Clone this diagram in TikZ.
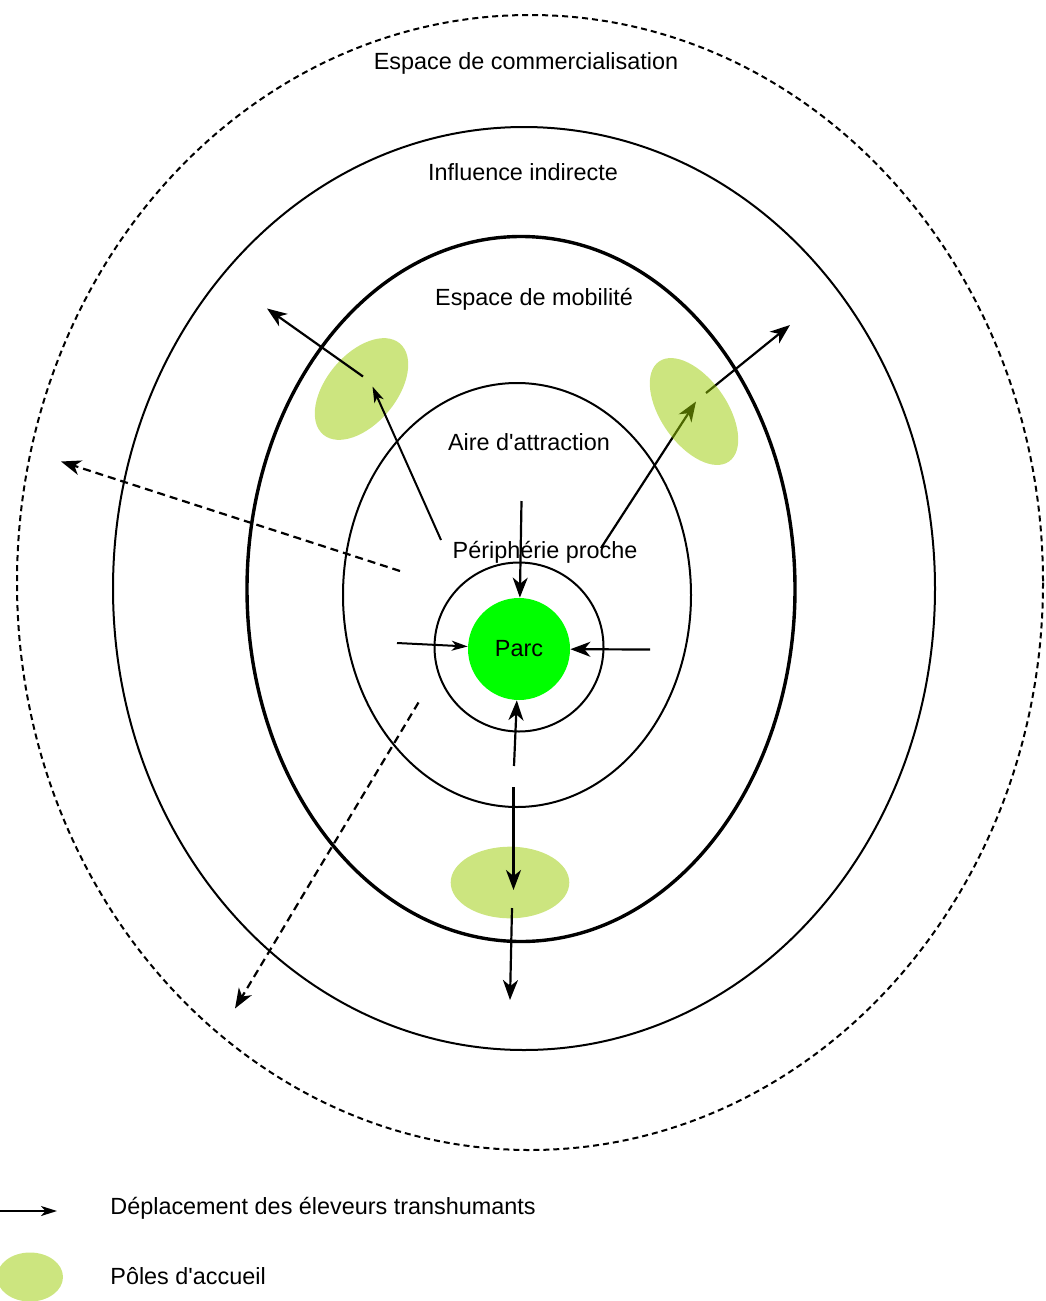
\documentclass[tikz,border=0pt]{standalone}
\usepackage{fontspec}
\setmainfont{Liberation Sans}
\usetikzlibrary{arrows.meta, positioning, shapes.geometric}
\definecolor{parcgreen}{RGB}{0,255,0}
\definecolor{polegreen}{RGB}{153,204,0}
\tikzset{
  zone/.style={draw=black, line width=1pt},
  zonelabel/.style={font=\fontsize{11.7}{14}\selectfont, inner sep=0pt},
  pole/.style={ellipse, fill=polegreen, fill opacity=0.5, inner sep=0pt},
  flux/.style={draw=black, line width=1.1pt, -{Stealth[length=10pt, width=7.5pt, inset=3pt]}},
  fluxsmall/.style={draw=black, line width=1pt, -{Stealth[length=8pt, width=5pt, inset=2.2pt]}},
  fluxdash/.style={flux, dash pattern=on 4pt off 2.5pt},
}

\begin{document}
\begin{tikzpicture}[x=0.5pt, y=-0.5pt]
    \useasboundingbox (0,0) rectangle (1045,1301);
    % zones
    \draw[zone, dash pattern=on 3pt off 2pt] (530,582.5) ellipse [x radius=513, y radius=567.5];
    \draw[zone] (524,588.5) ellipse [x radius=411, y radius=461.5];
    \draw[zone, line width=1.7pt] (521,589) ellipse [x radius=274, y radius=352.5];
    \draw[zone] (517,595) ellipse [x radius=174, y radius=212];
    \draw[zone] (519,647) circle [radius=84.5];

    \node[zonelabel] (commerce) at (526,63) {Espace de commercialisation};
    \node[zonelabel] (influence) at (523,172) {Influence indirecte};
    \node[zonelabel] (mobilite) at (534,299) {Espace de mobilité};
    \node[zonelabel] (attraction) at (529,442) {Aire d\textquotesingle attraction};
    \node[zonelabel] (peripherie) at (545,552) {Périphérie proche};

    \node[circle, fill=parcgreen, minimum size=51pt, zonelabel] (parc) at (519,649) {Parc};

    % poles d'accueil
    \node[pole, minimum width=59.5pt, minimum height=35pt, rotate=50] (poleouest) at (361.5,389) {};
    \node[pole, minimum width=59.3pt, minimum height=35.8pt] (polesud) at (510,882.5) {};

    % deplacements vers le parc
    \coordinate (hautdeb) at (521.5,501);
    \coordinate (gauchedeb) at (397,643);
    \coordinate (droitedeb) at (650,649.5);
    \coordinate (basdeb) at (514,766);
    \draw[flux] (hautdeb) -- (parc);
    \draw[fluxsmall] (gauchedeb) -- (parc);
    \draw[flux] (droitedeb) -- (parc);
    \draw[flux] (basdeb) -- (parc);

    % deplacements vers les poles
    \coordinate (ouestdeb) at (441,540);
    \coordinate (ouestin) at (372.5,386.5);
    \coordinate (ouestout) at (363,376.5);
    \coordinate (ouestfin) at (267,308.5);
    \draw[fluxsmall] (ouestdeb) -- (ouestin);
    \draw[flux] (ouestout) -- (ouestfin);

    \coordinate (estdeb) at (601,548);
    \coordinate (estin) at (696,401.5);
    \coordinate (estout) at (706,393);
    \coordinate (estfin) at (790,325);
    \draw[flux] (estdeb) -- (estin);
    \draw[flux] (estout) -- (estfin);
    \node[pole, minimum width=61pt, minimum height=33pt, rotate=-55] (poleest) at (694,411.5) {};

    \coordinate (suddeb) at (513.5,787);
    \coordinate (sudin) at (513.5,890);
    \coordinate (sudout) at (512,908);
    \coordinate (sudfin) at (510,1000);
    \draw[flux] (suddeb) -- (sudin);
    \draw[flux] (sudout) -- (sudfin);

    % sorties lointaines
    \coordinate (loinouestdeb) at (400,571);
    \coordinate (loinouestfin) at (61,461.5);
    \coordinate (loinsuddeb) at (418.5,702.5);
    \coordinate (loinsudfin) at (235,1008.5);
    \draw[fluxdash] (loinouestdeb) -- (loinouestfin);
    \draw[fluxdash] (loinsuddeb) -- (loinsudfin);

    % legende
    \coordinate (legdeb) at (0,1211);
    \coordinate (legfin) at (57,1211);
    \draw[fluxsmall] (legdeb) -- (legfin);
    \node[zonelabel, anchor=west] (legdep) at (110,1208) {Déplacement des éleveurs transhumants};
    \node[pole, minimum width=33pt, minimum height=24.5pt] (legpole) at (30,1277) {};
    \node[zonelabel, anchor=west] (legpoles) at (110,1276) {Pôles d\textquotesingle accueil};
\end{tikzpicture}
\end{document}
